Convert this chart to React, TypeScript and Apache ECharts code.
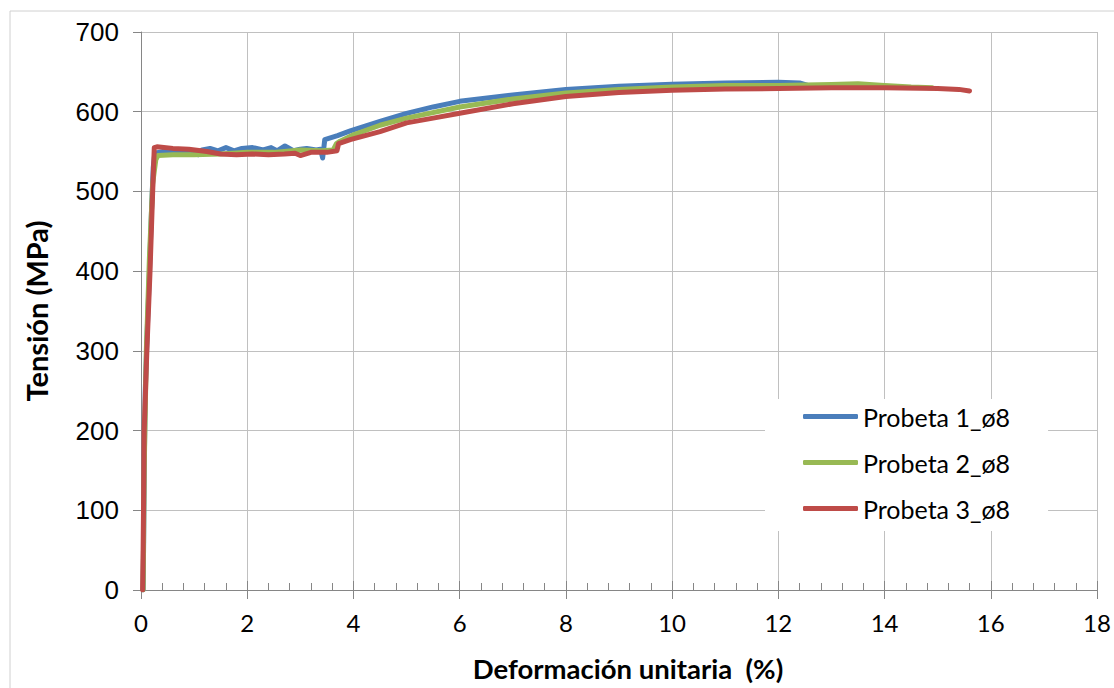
import React, { useEffect, useRef } from "react";
import * as echarts from "echarts";

const seriesNames = ["Probeta 1_ø8", "Probeta 2_ø8", "Probeta 3_ø8"];
const seriesColors = ["#4a7ebb", "#98b954", "#be4b48"];

const probeta1: [number, number][] = [
  [0.04, 0], [0.05, 60], [0.06, 150], [0.08, 250], [0.12, 330], [0.16, 400], [0.2, 480], [0.23, 530],
  [0.26, 548], [0.4, 550], [0.6, 549], [0.8, 548], [1.0, 549], [1.07, 546], [1.15, 552], [1.3, 554],
  [1.45, 551], [1.6, 555], [1.75, 551], [1.9, 554], [2.1, 555], [2.3, 552], [2.45, 555], [2.56, 551],
  [2.71, 557], [2.87, 551], [3.0, 553], [3.12, 554], [3.3, 552], [3.38, 553], [3.42, 542], [3.46, 565],
  [3.7, 570], [3.94, 576], [4.5, 588], [5.0, 598], [5.5, 606], [6.0, 613], [7.0, 621], [8.0, 628],
  [9.0, 632], [10.0, 634.5], [11.0, 636], [12.0, 637], [12.4, 636], [12.6, 632],
];

const probeta2: [number, number][] = [
  [0.04, 0], [0.06, 150], [0.1, 300], [0.16, 420], [0.22, 510], [0.28, 540], [0.32, 545], [0.6, 546],
  [1.0, 546], [1.5, 547], [2.0, 549], [2.5, 549], [3.0, 552], [3.4, 551], [3.62, 552], [3.68, 560],
  [3.75, 563], [4.0, 571], [4.5, 583], [5.0, 592], [6.0, 606], [7.0, 616], [8.0, 623.5], [9.0, 628],
  [10.0, 631], [11.0, 633], [12.0, 633], [13.0, 634], [13.5, 635], [14.0, 633], [14.5, 631], [14.9, 630],
];

const probeta3: [number, number][] = [
  [0.03, 0], [0.04, 50], [0.05, 120], [0.06, 200], [0.11, 300], [0.17, 400], [0.22, 500], [0.25, 555],
  [0.3, 556], [0.6, 554], [0.9, 553], [1.24, 550], [1.5, 547], [1.8, 546], [2.1, 547], [2.4, 546],
  [2.7, 547], [2.9, 548], [3.0, 545], [3.2, 549], [3.5, 549], [3.69, 551], [3.72, 560], [3.94, 565],
  [4.5, 575], [5.0, 586], [5.5, 592], [6.0, 598], [7.0, 610], [8.0, 619], [9.0, 624], [10.0, 627],
  [11.0, 628.5], [12.0, 629], [13.0, 630], [14.0, 630], [15.0, 629], [15.4, 628], [15.6, 626],
];

const allData = [probeta1, probeta2, probeta3];

const xTitle = "Deformación unitaria  (%)";
const yTitle = "Tensión (MPa)";

export default function App() {
  const ref = useRef<HTMLDivElement>(null);
  useEffect(() => {
    if (!ref.current) return;
    const chart = echarts.init(ref.current, null, { renderer: "svg" });
    chart.setOption({
      animation: false,
      backgroundColor: "#ffffff",
      grid: { left: 141, right: 17, top: 32, bottom: 98, containLabel: false },
      xAxis: [
        {
          type: "value",
          min: 0,
          max: 18,
          interval: 2,
          axisLine: { show: true, onZero: false, lineStyle: { color: "#868686", width: 1 } },
          axisTick: { show: true, inside: false, length: 9, lineStyle: { color: "#868686" } },
          axisLabel: { margin: 20, fontFamily: "Lato", fontSize: 24, color: "#000" },
          splitLine: { show: true, lineStyle: { color: "#c0c0c0", width: 1 } },
        },
        {
          type: "value",
          min: 0,
          max: 18,
          interval: 2,
          position: "bottom",
          axisLine: { show: false },
          axisTick: { show: true, inside: true, length: 9, lineStyle: { color: "#868686" } },
          minorTick: { show: true, splitNumber: 5, length: 7, lineStyle: { color: "#868686" } },
          axisLabel: { show: false },
          splitLine: { show: false },
        },
      ],
      yAxis: {
        type: "value",
        min: 0,
        max: 700,
        interval: 100,
        axisLine: { show: true, lineStyle: { color: "#868686", width: 1 } },
        axisTick: { show: true, inside: false, length: 8, lineStyle: { color: "#868686" } },
        axisLabel: { margin: 22, fontFamily: "Liberation Sans", fontSize: 26, color: "#000" },
        splitLine: { show: true, lineStyle: { color: "#c0c0c0", width: 1 } },
      },
      legend: {
        orient: "vertical",
        left: 765,
        top: 399,
        padding: [5, 38, 10, 38],
        backgroundColor: "#ffffff",
        itemWidth: 55,
        itemHeight: 5,
        itemGap: 21,
        icon: "roundRect",
        textStyle: { fontFamily: "Lato", fontSize: 25, color: "#000" },
        data: seriesNames,
      },
      series: allData.map((d, i) => ({
        name: seriesNames[i],
        type: "line",
        data: d,
        showSymbol: false,
        symbol: "none",
        lineStyle: { color: seriesColors[i], width: 5, cap: "round", join: "round" },
        itemStyle: { color: seriesColors[i] },
        z: 2 + i,
      })),
      graphic: [
        {
          type: "rect",
          silent: true,
          shape: { x: 10, y: 11, width: 1200, height: 800 },
          style: { fill: "none", stroke: "#d0d0d0", lineWidth: 1 },
          z: -10,
        },
        {
          type: "text",
          x: 628,
          y: 668,
          style: {
            text: xTitle,
            fontFamily: "Lato",
            fontWeight: "bold",
            fontSize: 27.5,
            fill: "#000",
            align: "center",
            verticalAlign: "middle",
          },
        },
        {
          type: "text",
          x: 36,
          y: 311,
          rotation: Math.PI / 2,
          style: {
            text: yTitle,
            fontFamily: "Lato",
            fontWeight: "bold",
            fontSize: 29,
            fill: "#000",
            align: "center",
            verticalAlign: "middle",
          },
        },
      ],
    });
    return () => chart.dispose();
  }, []);
  return (
    <div
      ref={ref}
      style={{ position: "fixed", left: 0, top: 0, width: 1114, height: 688, overflow: "hidden" }}
    />
  );
}
